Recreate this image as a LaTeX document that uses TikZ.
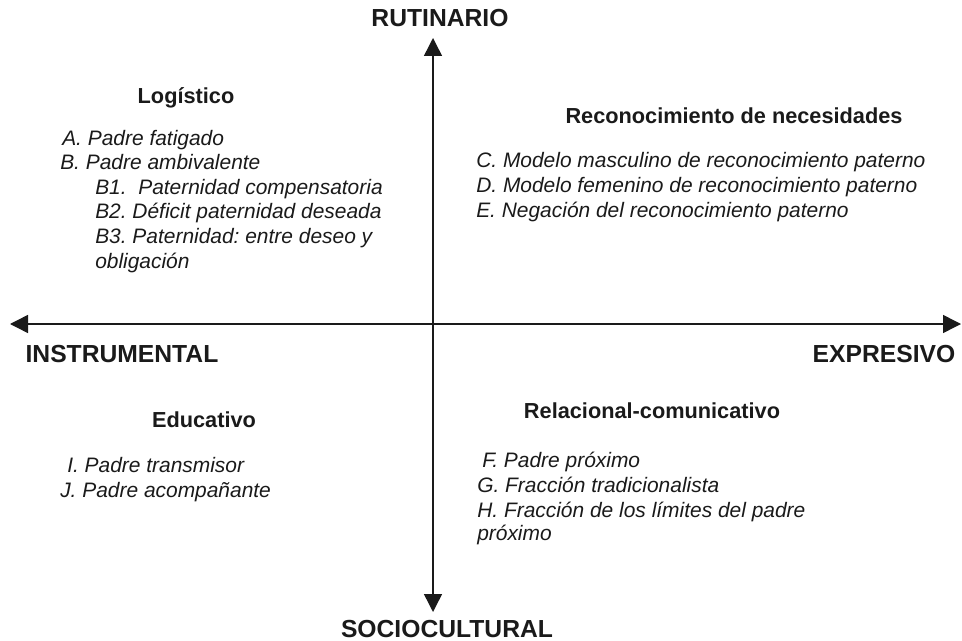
\documentclass[tikz,border=0pt]{standalone}
\usepackage{fontspec}
\setmainfont{Liberation Sans}
\usepackage{xcolor}
\definecolor{quadInk}{HTML}{1A1A1A}
\usetikzlibrary{arrows.meta}
\frenchspacing
\tikzset{
    axis/.style={
        <->,
        >={Triangle[length=13.5pt,width=13.5pt]},
        line width=1.1pt,
        color=quadInk
    },
    axislabel/.style={
        font=\fontsize{18.5}{21}\selectfont\bfseries,
        text=quadInk,
        inner sep=0pt,
        anchor=base
    },
    heading/.style={
        font=\fontsize{16.3}{19}\selectfont\bfseries,
        text=quadInk,
        inner sep=0pt,
        anchor=base
    },
    item/.style={
        font=\fontsize{15.7}{18}\selectfont\itshape,
        text=quadInk,
        inner sep=0pt,
        anchor=base west
    }
}
\begin{document}
\begin{tikzpicture}[x=0.75pt,y=-0.75pt]
    \useasboundingbox (0,0) rectangle (962,641);

    % Axes
    \coordinate (tipN) at (433,38);
    \coordinate (tipS) at (433,612);
    \coordinate (tipW) at (10,324);
    \coordinate (tipE) at (961,324);
    \draw[axis] (tipN) -- (tipS);
    \draw[axis] (tipW) -- (tipE);
    \node[axislabel] (rutinario) at (440,27) {RUTINARIO};
    \node[axislabel] (sociocultural) at (447,637) {SOCIOCULTURAL};
    \node[axislabel] (instrumental) at (122,362) {INSTRUMENTAL};
    \node[axislabel] (expresivo) at (884,362) {EXPRESIVO};

    % Logistico
    \node[heading] (logistico) at (186,104) {Logístico};
    \foreach \x/\y/\t [count=\i] in {
        62/146/A. Padre fatigado,
        60/170/B. Padre ambivalente,
        95/195/B1.\ \ Paternidad compensatoria,
        95/219/B2. Déficit paternidad deseada,
        95/244/B3. Paternidad: entre deseo y,
        95/268/obligación} {
        \node[item] (log\i) at (\x,\y) {\t};
    }

    % Reconocimiento de necesidades
    \node[heading] (reconocimiento) at (734,124) {Reconocimiento de necesidades};
    \foreach \y/\t [count=\i] in {
        168/C. Modelo masculino de reconocimiento paterno,
        193/D. Modelo femenino de reconocimiento paterno,
        218/E. Negación del reconocimiento paterno} {
        \node[item] (rec\i) at (476,\y) {\t};
    }

    % Educativo
    \node[heading] (educativo) at (204,427) {Educativo};
    \node[item] (edu1) at (67,472) {I. Padre transmisor};
    \node[item] (edu2) at (60,497) {J. Padre acompañante};

    % Relacional-comunicativo
    \node[heading] (relacional) at (652,418) {Relacional-comunicativo};
    \foreach \x/\y/\t [count=\i] in {
        482/467/F. Padre próximo,
        477/492/G. Fracción tradicionalista,
        477/517/H. Fracción de los límites del padre,
        477/540/próximo} {
        \node[item] (rel\i) at (\x,\y) {\t};
    }
\end{tikzpicture}
\end{document}
